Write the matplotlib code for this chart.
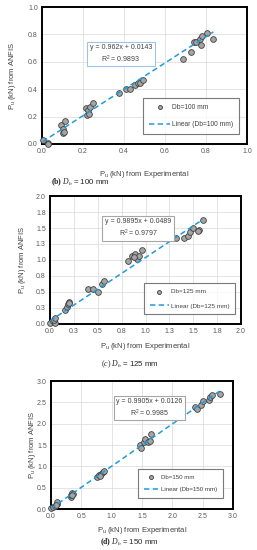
import matplotlib

matplotlib.use("Agg")
import matplotlib.pyplot as plt
import numpy as np

plt.rcParams["font.family"] = ["Liberation Sans", "DejaVu Sans"]
plt.rcParams["mathtext.fontset"] = "custom"
plt.rcParams["mathtext.rm"] = "Liberation Serif"
plt.rcParams["mathtext.it"] = "Liberation Serif:italic"
plt.rcParams["mathtext.bf"] = "Liberation Serif:bold"

MARKER = "#A5A5A5"
EDGE = "#3F3F3F"
LINE = "#1E9BDC"
INK = "#595959"
GRID = "#D9D9D9"

# Db = 100 mm
exp_100 = [0.003, 0.03, 0.028, 0.093, 0.11, 0.104, 0.10, 0.107,
           0.215, 0.225, 0.235, 0.25, 0.22, 0.23,
           0.377, 0.41, 0.429, 0.454, 0.467, 0.478, 0.494,
           0.689, 0.725, 0.741, 0.751, 0.771, 0.779, 0.803, 0.776, 0.836]
anf_100 = [0.03, 0.01, 0.0, 0.14, 0.165, 0.11, 0.08, 0.09,
           0.26, 0.248, 0.272, 0.297, 0.212, 0.22,
           0.375, 0.405, 0.405, 0.43, 0.445, 0.445, 0.47,
           0.62, 0.67, 0.745, 0.745, 0.765, 0.79, 0.81, 0.72, 0.77]

# Db = 125 mm
exp_125 = [0.0, 0.035, 0.05, 0.045, 0.05,
           0.16, 0.175, 0.19, 0.2, 0.195,
           0.40, 0.455, 0.5, 0.54, 0.57,
           0.82, 0.86, 0.89, 0.91, 0.93, 0.96, 0.88,
           1.32, 1.40, 1.45, 1.47, 1.50, 1.555, 1.545, 1.60]
anf_125 = [0.02, 0.04, 0.01, 0.07, 0.09,
           0.22, 0.27, 0.31, 0.34, 0.33,
           0.55, 0.545, 0.5, 0.62, 0.67,
           0.98, 1.06, 1.09, 1.02, 1.07, 1.16, 1.04,
           1.34, 1.34, 1.37, 1.44, 1.50, 1.47, 1.45, 1.63]

# Db = 150 mm
exp_150 = [0.0, 0.03, 0.06, 0.1, 0.1, 0.08,
           0.33, 0.33, 0.345, 0.36, 0.35,
           0.76, 0.79, 0.82, 0.85, 0.87, 0.8,
           1.46, 1.48, 1.53, 1.55, 1.6, 1.65, 1.63,
           2.37, 2.40, 2.48, 2.50, 2.6, 2.62, 2.66, 2.79]
anf_150 = [0.02, 0.05, 0.08, 0.12, 0.16, 0.1,
           0.28, 0.33, 0.38, 0.36, 0.33,
           0.76, 0.8, 0.83, 0.86, 0.88, 0.78,
           1.5, 1.43, 1.58, 1.64, 1.58, 1.75, 1.6,
           2.38, 2.35, 2.44, 2.52, 2.55, 2.63, 2.68, 2.7]

slopes = [0.962, 0.9895, 0.9905]
intercepts = [0.0143, 0.0489, 0.0126]
eq_texts = ["y = 0.962x + 0.0143\nR$^\\mathregular{2}$ = 0.9893",
            "y = 0.9895x + 0.0489\nR$^\\mathregular{2}$ = 0.9797",
            "y = 0.9905x + 0.0126\nR$^\\mathregular{2}$ = 0.9985"]
diameters = ["100", "125", "150"]
tick_values = [[0.0, 0.2, 0.4, 0.6, 0.8, 1.0],
               [0.0, 0.25, 0.5, 0.75, 1.0, 1.25, 1.5, 1.75, 2.0],
               [0.0, 0.5, 1.0, 1.5, 2.0, 2.5, 3.0]]
tick_labels = [["0.0", "0.2", "0.4", "0.6", "0.8", "1.0"],
               ["0.0", "0.3", "0.5", "0.8", "1.0", "1.3", "1.5", "1.8", "2.0"],
               ["0.0", "0.5", "1.0", "1.5", "2.0", "2.5", "3.0"]]
captions = [r"$\mathbf{(b)}$ $D_b$ = 100 mm",
            r"$\mathit{(c)}$ $D_b$ = 125 mm",
            r"$\mathbf{(d)}$ $D_b$ = 150 mm"]

W, H = 257, 550
# axes boxes in pixels: left, top, right, bottom
boxes = [(42, 7, 247, 144), (50, 196, 241, 324), (51, 381, 233, 509)]
eq_pos = [(0.385, 0.66), (0.461, 0.748), (0.541, 0.792)]
eq_edge = ["#9DC3E6", "#A6A6A6", "#A6A6A6"]
legend_box = [(143, 98, 240, 136), (144, 283, 232, 317), (138, 469, 224, 498)]
legend_font = [4.8, 4.6, 4.4]
legend_handle = [3.2, 3.0, 2.6]
legend_space = [1.5, 1.4, 1.2]
ylabel_x = [13, 22, 33]
xlabel_y = [174, 347, 531]
caption_xy = [(80, 182), (130, 364), (129, 542)]

fig = plt.figure(figsize=(W / 100, H / 100), dpi=100)
datasets = [(exp_100, anf_100), (exp_125, anf_125), (exp_150, anf_150)]

for i, (xs, ys) in enumerate(datasets):
    l, t, r, b = boxes[i]
    ax = fig.add_axes([l / W, 1 - b / H, (r - l) / W, (b - t) / H])
    xs = np.array(xs)
    ys = np.array(ys)
    ax.scatter(xs, ys, s=17, color=MARKER, edgecolor=EDGE, linewidth=0.6,
               zorder=3, clip_on=False, label=f"Db={diameters[i]} mm")
    xf = np.array([xs.min(), xs.max()])
    ax.plot(xf, slopes[i] * xf + intercepts[i], color=LINE, lw=1.1,
            dashes=(3.5, 2.2), zorder=4, label=f"Linear (Db={diameters[i]} mm)")
    lim = tick_values[i][-1]
    ax.set_xlim(0, lim)
    ax.set_ylim(0, lim)
    ax.set_xticks(tick_values[i], tick_labels[i])
    ax.set_yticks(tick_values[i], tick_labels[i])
    ax.tick_params(length=0, labelsize=5, colors=INK, pad=3)
    ax.grid(color=GRID, linewidth=0.5)
    ax.set_axisbelow(True)
    for sp in ax.spines.values():
        sp.set_color("black")
        sp.set_linewidth(1.4)

    ax.text(*eq_pos[i], eq_texts[i], transform=ax.transAxes, ha="center",
            va="center", fontsize=5, color="#404040", linespacing=1.3,
            bbox=dict(boxstyle="square,pad=0.35", fc="white", ec=eq_edge[i], lw=0.8),
            zorder=6)

    lx0, ly0, lx1, ly1 = legend_box[i]
    leg = ax.legend(loc="upper left",
                    bbox_to_anchor=((lx0 - l) / (r - l), (b - ly0) / (b - t)),
                    fontsize=legend_font[i], frameon=True, fancybox=False,
                    edgecolor=INK, handlelength=legend_handle[i],
                    labelspacing=legend_space[i], borderpad=0.9,
                    handletextpad=0.3, borderaxespad=0, markerscale=0.7)
    leg.get_frame().set_linewidth(0.8)
    for txt in leg.get_texts():
        txt.set_color("#404040")

    fig.text((l + r) / 2 / W, 1 - xlabel_y[i] / H,
             r"P$_\mathregular{u}$ (kN) from Experimental",
             ha="center", va="center", fontsize=5.5, color="#404040")
    fig.text(ylabel_x[i] / W, 1 - (t + b) / 2 / H,
             r"P$_\mathregular{u}$ (kN) from ANFIS", rotation=90,
             ha="center", va="center", fontsize=5.5, color="#404040")
    cx, cy = caption_xy[i]
    fig.text(cx / W, 1 - cy / H, captions[i], ha="center", va="center",
             fontsize=5.6, color="#222222")

fig.savefig("out.png", dpi=100)
